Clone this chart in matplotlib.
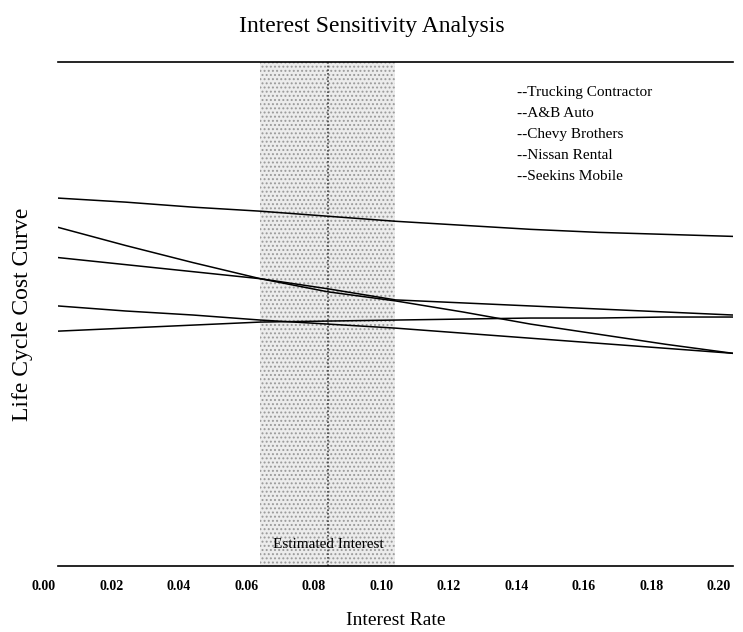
import matplotlib.pyplot as plt
import matplotlib.transforms as mtransforms

# interest rates (x) and life cycle cost curves (arbitrary units)
rates = [0.00, 0.02, 0.04, 0.06, 0.08, 0.10, 0.12, 0.14, 0.16, 0.18, 0.20]
trucking = [365, 361, 356, 352, 347, 342, 338, 334, 331, 329, 327]
ab_auto = [336, 318, 301, 285, 272, 263, 252, 240, 230, 220, 211]
chevy = [306, 299, 292, 285, 275, 264, 261, 258, 255, 252, 249]
nissan = [258, 253, 249, 244, 240, 236, 231, 226, 221, 216, 211]
seekins = [233, 236, 239, 242, 243, 244, 245, 246, 246, 247, 247]

series_names = ["Trucking Contractor", "A&B Auto", "Chevy Brothers",
                "Nissan Rental", "Seekins Mobile"]
xticks = [0.00, 0.02, 0.04, 0.06, 0.08, 0.10, 0.12, 0.14, 0.16, 0.18, 0.20]
band = (0.06, 0.10)
estimate = 0.08

plt.rcParams["font.family"] = ["Liberation Serif", "DejaVu Serif"]
plt.rcParams["hatch.linewidth"] = 0.9

fig = plt.figure(figsize=(7.43, 6.32), dpi=100)
ax = fig.add_axes([0.078, 0.1044, 0.9085, 0.7975])

# shaded estimated interest range (stippled)
ax.axvspan(band[0], band[1], facecolor="#ececec", edgecolor="#9a9a9a",
           linewidth=0, hatch="....", zorder=0)
ax.axvline(estimate, color="#444444", lw=1.2, ls=(0, (1, 1.2)), zorder=1)

for vals in [trucking, ab_auto, chevy, nissan, seekins]:
    ax.plot(rates, vals, color="black", lw=1.1, zorder=2)

ax.set_xlim(0, 0.20)
ax.set_ylim(0, 500)
ax.set_xticks(xticks)
ax.set_xticklabels([f"{t:.2f}" for t in xticks], fontsize=10, fontweight="bold")
ax.set_yticks([])
ax.tick_params(axis="x", length=0, pad=10)
# the scanned labels sit a little left of their tick positions
shift = mtransforms.ScaledTranslation(-14 / 100, 0, fig.dpi_scale_trans)
for lab in ax.get_xticklabels():
    lab.set_transform(lab.get_transform() + shift)
for side in ["left", "right"]:
    ax.spines[side].set_visible(False)
ax.spines["top"].set_linewidth(1.2)
ax.spines["bottom"].set_linewidth(1.2)

ax.text(estimate, 15, "Estimated Interest", ha="center", va="bottom",
        fontsize=11, zorder=3)

# legend drawn as plain text lines
for i, name in enumerate(series_names):
    ax.text(0.136, 470 - i * 21, "--" + name, fontsize=11, va="center")

fig.suptitle("Interest Sensitivity Analysis", y=0.975, fontsize=17)
ax.set_xlabel("Interest Rate", fontsize=14, labelpad=14)
ax.set_ylabel("Life Cycle Cost Curve", fontsize=17, labelpad=18)

fig.savefig("out.png", dpi=100, facecolor="white")
